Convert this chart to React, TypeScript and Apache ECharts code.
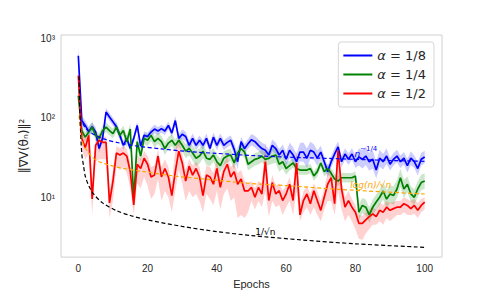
import React, { useEffect, useRef } from "react";
import * as echarts from "echarts";

// epochs 0..100
const epochs: number[] = Array.from({ length: 101 }, (_, i) => i);

const seriesNames = ["α = 1/8", "α = 1/4", "α = 1/2"];

const blueVals = [
  600, 92, 80, 67, 77, 66, 41, 55, 118, 102,
  89, 77, 60, 45, 55, 41, 55, 80, 44, 60,
  58, 66, 72, 68, 73, 68, 80, 64, 92, 55,
  62, 58, 45, 55, 45, 52, 45, 55, 41, 57,
  45, 55, 45, 49, 52, 40, 28, 50, 41, 47,
  53, 50, 45, 41, 39, 34, 45, 41, 34, 39,
  30, 39, 34, 28, 37, 37, 31, 39, 37, 31,
  37, 28, 21, 28, 35, 43, 28, 35, 30, 35,
  28, 32, 30, 33, 28, 30, 22, 31, 28, 33,
  26, 30, 33, 28, 31, 25, 31, 28, 23, 30, 32,
];

const greenVals = [
  190, 69, 57, 66, 76, 60, 55, 69, 76, 69,
  63, 76, 60, 69, 50, 72, 9.5, 50, 33, 55,
  52, 60, 50, 55, 50, 41, 48, 52, 45, 52,
  45, 38, 41, 36, 31, 33, 38, 31, 30, 34,
  28, 25, 31, 33, 34, 27, 36, 41, 37, 26,
  28, 30, 31, 33, 30, 31, 33, 34, 26, 28,
  23, 25, 27, 23, 22, 22, 22, 23, 18.5, 21,
  27, 21, 23, 20, 17, 16, 17.6, 17.6, 17.6, 17.6,
  18.5, 6.5, 7.9, 7.5, 6, 7.5, 8.7, 10, 12, 9.5,
  11, 10.5, 12.7, 17.6, 12.7, 14.6, 11, 10, 12.7, 15.3, 16,
];

const redVals = [
  340, 55, 42, 60, 9.5, 45, 52, 49, 49, 8.5,
  16, 36, 34, 36, 33, 21, 8, 26, 23, 31,
  26, 18, 19, 33, 18, 23, 18, 10.5, 21, 38,
  27, 16, 24.6, 19, 23, 18, 10.5, 19, 18, 14.6,
  23, 13.3, 21, 26, 18, 21, 14.6, 17, 12, 12,
  13.3, 10, 13.3, 11, 28, 9.1, 15.3, 11, 12.1, 9.1,
  11, 14.6, 9.1, 27, 6, 9.1, 11, 8.3, 12.1, 9.1,
  6.85, 10, 14.6, 17.6, 8.3, 39, 12.7, 7.5, 9.1, 7.5,
  6.5, 4.7, 4.7, 5.2, 5.7, 6.2, 5.7, 6.85, 6.5, 7.5,
  6.85, 7.2, 7.5, 7.5, 8.3, 7.9, 7.2, 7.9, 6.85, 7.9, 8.7,
];

// shaded band spreads (relative) for blue and green
const blueSpread = [
  0.35, 0.15, 0.15, 0.15, 0.15, 0.15, 0.12, 0.12, 0.12, 0.12,
  0.12, 0.12, 0.12, 0.14, 0.12, 0.12, 0.12, 0.12, 0.12, 0.12,
  0.12, 0.12, 0.14, 0.12, 0.12, 0.12, 0.12, 0.12, 0.14, 0.12,
  0.15, 0.15, 0.15, 0.15, 0.15, 0.15, 0.15, 0.15, 0.15, 0.15,
  0.15, 0.15, 0.15, 0.15, 0.15, 0.2, 0.25, 0.15, 0.15, 0.15,
  0.18, 0.18, 0.18, 0.18, 0.18, 0.18, 0.18, 0.18, 0.18, 0.18,
  0.22, 0.25, 0.25, 0.25, 0.3, 0.32, 0.32, 0.28, 0.25, 0.25,
  0.2, 0.18, 0.18, 0.18, 0.18, 0.18, 0.18, 0.18, 0.18, 0.18,
  0.2, 0.28, 0.3, 0.3, 0.3, 0.3, 0.28, 0.28, 0.25, 0.25,
  0.2, 0.2, 0.2, 0.2, 0.2, 0.22, 0.22, 0.2, 0.22, 0.2, 0.2,
];

const greenSpread = [
  0.25, 0.15, 0.15, 0.15, 0.15, 0.15, 0.15, 0.15, 0.15, 0.15,
  0.15, 0.15, 0.15, 0.15, 0.18, 0.18, 0.35, 0.2, 0.2, 0.18,
  0.18, 0.18, 0.18, 0.18, 0.18, 0.2, 0.2, 0.18, 0.18, 0.18,
  0.2, 0.22, 0.22, 0.25, 0.25, 0.25, 0.22, 0.22, 0.22, 0.22,
  0.22, 0.22, 0.22, 0.2, 0.2, 0.2, 0.2, 0.2, 0.2, 0.2,
  0.2, 0.2, 0.2, 0.2, 0.22, 0.22, 0.25, 0.25, 0.25, 0.22,
  0.2, 0.15, 0.15, 0.15, 0.15, 0.15, 0.15, 0.15, 0.15, 0.15,
  0.15, 0.15, 0.15, 0.15, 0.15, 0.15, 0.15, 0.15, 0.15, 0.15,
  0.15, 0.25, 0.25, 0.25, 0.25, 0.25, 0.25, 0.25, 0.28, 0.3,
  0.3, 0.3, 0.3, 0.3, 0.3, 0.25, 0.25, 0.25, 0.25, 0.25, 0.25,
];

const redLow = [
  250, 40, 30, 35, 6, 28, 30, 30, 30, 5.5,
  9, 24, 22, 24, 20, 13, 6, 15, 13, 18,
  14, 9.5, 11, 17, 9, 12, 10, 6.5, 12, 22,
  15, 9, 12, 10, 11, 9, 6.5, 11, 9.5, 8,
  12, 7, 11, 13, 9, 10, 5.5, 6, 5.5, 6.5,
  9, 7, 9, 7.5, 12, 5.7, 9, 7.5, 8, 6,
  7.5, 9, 6, 12, 5, 6.5, 7.5, 6, 7.5, 6,
  5, 7, 9, 9, 6, 12, 7, 5, 6, 5,
  4, 3, 2.9, 3.5, 4, 4.5, 4.5, 5, 4.5, 5.5,
  5, 5.5, 6, 6, 6.5, 6, 6, 6.2, 5.5, 6.5, 7,
];

const redHigh = [
  420, 70, 55, 70, 14, 60, 62, 58, 58, 12,
  22, 44, 41, 44, 40, 28, 11, 34, 30, 38,
  33, 24, 25, 40, 24, 30, 24, 15, 40, 55,
  36, 22, 30, 25, 28, 24, 15, 25, 24, 20,
  30, 18, 27, 32, 24, 27, 20, 22, 16, 15,
  16, 13, 16, 15, 50, 12, 19, 14, 15, 12,
  14, 18, 12, 40, 8, 12, 14, 11, 15, 12,
  9, 13, 20, 22, 12, 48, 16, 10, 12, 9.5,
  8, 6, 5.8, 6.5, 7, 7.5, 7, 8.5, 8, 9,
  8.5, 8.8, 9, 9, 10, 9.5, 9, 9.5, 8.5, 9.5, 10,
];

// reference curves: [epoch, value]
const quarterRef: [number, number][] = [
  [0.4, 100], [1, 89], [2, 75], [3, 68], [5, 60], [8, 53], [12, 48], [17, 44],
  [24, 40.5], [32, 37.5], [40, 35.6], [50, 33.5], [60, 32], [70, 31], [80, 30],
  [90, 29], [100, 28.3],
];
const logRef: [number, number][] = [
  [0.2, 106], [1, 55], [1.5, 45], [2.7, 37.6], [4, 32], [6, 28], [8.5, 25.7],
  [12, 23.5], [18, 21.3], [27.7, 18.5], [37.4, 16.8], [49, 15], [60, 14],
  [75, 12.6], [88, 11.7], [100, 11],
];
const sqrtRef: [number, number][] = [
  [0.2, 330], [0.5, 100], [1, 35], [1.5, 25], [2, 18.5], [3, 14], [4.4, 11],
  [7, 8.5], [11, 6.8], [15, 5.9], [20, 5.2], [30, 4.3], [40, 3.7], [50, 3.3],
  [65, 2.9], [80, 2.6], [100, 2.35],
];

const xTickLabels = [0, 20, 40, 60, 80, 100];
const yTickLabels: Record<number, string> = { 1: "10¹", 2: "10²", 3: "10³" };

const FONT = "Liberation Sans, Arial, sans-serif";
const TEXT = "#262626";

function zip(ys: number[]) {
  return ys.map((v, i) => [epochs[i], v]);
}

function band(lo: number[], hi: number[], fill: string) {
  return {
    type: "custom",
    silent: true,
    clip: true,
    z: 1,
    data: [[epochs[0], hi[0]]],
    renderItem: (_p: any, api: any) => {
      const pts: number[][] = [];
      for (let i = 0; i < hi.length; i++) pts.push(api.coord([epochs[i], hi[i]]));
      for (let i = lo.length - 1; i >= 0; i--) pts.push(api.coord([epochs[i], lo[i]]));
      return { type: "polygon", shape: { points: pts }, style: { fill, stroke: "none" } };
    },
  };
}

function solid(name: string, ys: number[], color: string) {
  return {
    name,
    type: "line",
    data: zip(ys),
    symbol: "none",
    z: 3,
    lineStyle: { color, width: 1.7 },
    itemStyle: { color },
  };
}

function dashed(name: string, pts: [number, number][], color: string, label: any) {
  return {
    name,
    type: "line",
    data: pts,
    symbol: "none",
    smooth: 0.3,
    z: 4,
    lineStyle: { color, width: 1.2, type: [4, 2.5] },
    itemStyle: { color },
    markPoint: {
      symbol: "circle",
      symbolSize: 0,
      silent: true,
      data: [{ coord: label.coord, value: 0 }],
      label: {
        show: true,
        position: "inside",
        formatter: label.text,
        color,
        fontFamily: "DejaVu Sans",
        fontSize: 9,
        rich: label.rich,
      },
    },
  };
}

const blueLow = blueVals.map((v, i) => v / (1 + blueSpread[i]));
const blueHigh = blueVals.map((v, i) => v * (1 + blueSpread[i]));
const greenLow = greenVals.map((v, i) => v / (1 + greenSpread[i]));
const greenHigh = greenVals.map((v, i) => v * (1 + greenSpread[i]));

export default function App() {
  const ref = useRef<HTMLDivElement>(null);
  useEffect(() => {
    const chart = echarts.init(ref.current!, null, { renderer: "svg" });
    const option: any = {
      animation: false,
      backgroundColor: "#ffffff",
      grid: {
        left: 61,
        right: 49,
        top: 35,
        bottom: 33,
        show: true,
        borderColor: "#d0d0d0",
        borderWidth: 1,
        backgroundColor: "transparent",
      },
      legend: {
        data: seriesNames.map((n) => ({ name: n, icon: "rect" })),
        orient: "vertical",
        right: 57,
        top: 42,
        itemWidth: 29,
        itemHeight: 2,
        itemGap: 4,
        padding: [6, 8, 6, 5],
        backgroundColor: "#ffffff",
        borderColor: "#d5d5d5",
        borderWidth: 1,
        borderRadius: 3,
        textStyle: {
          fontFamily: "DejaVu Sans",
          fontSize: 13,
          lineHeight: 15,
          color: TEXT,
          rich: { i: { fontStyle: "italic", fontFamily: "DejaVu Sans", fontSize: 13, lineHeight: 15, color: TEXT } },
        },
        formatter: (name: string) => name.replace("α", "{i|α}"),
      },
      xAxis: {
        type: "value",
        min: -5,
        max: 105,
        interval: 5,
        name: "Epochs",
        nameLocation: "middle",
        nameGap: 18,
        nameTextStyle: { fontFamily: FONT, fontSize: 11, color: TEXT },
        axisLine: { show: false },
        axisTick: { show: false },
        splitLine: { show: false },
        axisLabel: {
          interval: 0,
          margin: 6,
          fontFamily: FONT,
          fontSize: 10,
          color: TEXT,
          formatter: (v: number) => (xTickLabels.indexOf(v) >= 0 ? String(v) : ""),
        },
      },
      yAxis: {
        type: "log",
        logBase: 10,
        min: 1.77,
        max: 1096,
        name: "‖∇V(θₙ)‖²",
        nameLocation: "middle",
        nameRotate: 90,
        nameGap: 26,
        nameTextStyle: { fontFamily: "DejaVu Sans", fontSize: 12, color: TEXT },
        axisLine: { show: false },
        axisTick: { show: false },
        splitLine: { show: false },
        axisLabel: {
          margin: 6,
          fontFamily: FONT,
          fontSize: 10,
          color: TEXT,
          formatter: (v: number) => {
            const e = Math.log10(v);
            const r = Math.round(e);
            return Math.abs(e - r) < 1e-6 && yTickLabels[r] ? yTickLabels[r] : "";
          },
        },
      },
      series: [
        band(blueLow, blueHigh, "rgba(0,0,255,0.2)"),
        band(greenLow, greenHigh, "rgba(0,128,0,0.2)"),
        band(redLow, redHigh, "rgba(255,0,0,0.18)"),
        solid(seriesNames[0], blueVals, "#0000ff"),
        solid(seriesNames[1], greenVals, "#008000"),
        solid(seriesNames[2], redVals, "#ff0000"),
        dashed("n^-1/4", quarterRef, "#0000ff", {
          coord: [83, 37.5],
          text: "{n|n}{s|−1/4}",
          rich: {
            n: { fontStyle: "italic", fontSize: 9, color: "#0000ff", verticalAlign: "bottom", lineHeight: 13 },
            s: { fontSize: 7, color: "#0000ff", verticalAlign: "top" },
          },
        }),
        dashed("log(n)/sqrt(n)", logRef, "#ffa500", {
          coord: [84.4, 14.4],
          text: "{t|log(n)/√n}",
          rich: { t: { fontStyle: "italic", fontSize: 9, color: "#ffa500" } },
        }),
        dashed("1/sqrt(n)", sqrtRef, "#000000", {
          coord: [54, 3.7],
          text: "{t|1/√n}",
          rich: { t: { fontSize: 9, color: "#000000" } },
        }),
      ],
    };
    chart.setOption(option);
    return () => chart.dispose();
  }, []);
  return (
    <div
      ref={ref}
      style={{ position: "fixed", left: 0, top: 0, width: 491, height: 294, background: "#fff" }}
    />
  );
}
